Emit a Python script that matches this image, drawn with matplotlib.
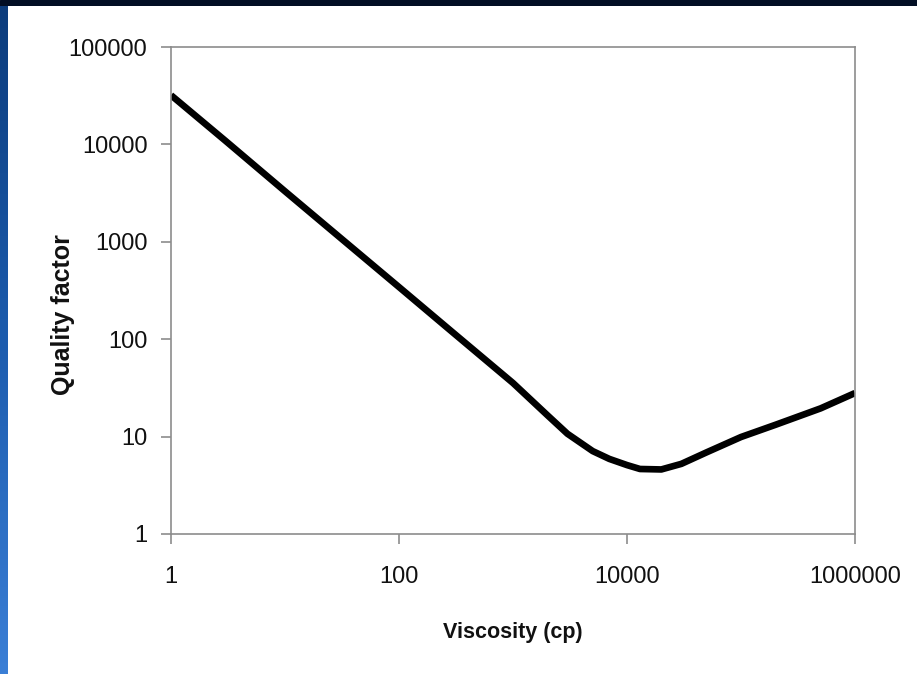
import numpy as np
import matplotlib
matplotlib.use("Agg")
import matplotlib.pyplot as plt

# data (log-log)
viscosity = [1, 3, 10, 30, 100, 300, 1000, 2000, 3000, 5000, 7000, 10000,
             13000, 20000, 30000, 50000, 100000, 200000, 500000, 1000000]
quality = [32000, 10900, 3300, 1120, 343, 116, 35.5, 16.6, 10.7, 7.1, 5.9, 5.1,
           4.65, 4.6, 5.25, 6.9, 9.9, 13.2, 19.5, 28]

x_ticks = [1, 100, 10000, 1000000]
x_tick_labels = ["1", "100", "10000", "1000000"]
y_ticks = [1, 10, 100, 1000, 10000, 100000]
y_tick_labels = ["1", "10", "100", "1000", "10000", "100000"]

plt.rcParams['font.family'] = ['Liberation Sans', 'DejaVu Sans']

W, H = 917, 674
fig = plt.figure(figsize=(W / 100, H / 100), dpi=100, facecolor="white")

# slide background strips (top and left)
top = fig.add_axes([0, 1 - 6 / H, 1, 6 / H])
top.set_axis_off()
top.add_patch(plt.Rectangle((0, 0), 1, 1, color="#020e24", transform=top.transAxes))

left = fig.add_axes([0, 0, 8 / W, 1 - 6 / H])
grad = np.linspace(0, 1, 256).reshape(-1, 1)
cmap = matplotlib.colors.LinearSegmentedColormap.from_list("slide", ["#3b7fd6", "#1c5cae", "#0c3c7c"])
left.imshow(grad, aspect="auto", cmap=cmap, origin="lower", extent=[0, 1, 0, 1])
left.set_axis_off()

ax = fig.add_axes([171 / W, 1 - 534 / H, 684 / W, 487 / H])
ax.plot(viscosity, quality, color="black", linewidth=4.8, solid_joinstyle="round",
        solid_capstyle="butt")

ax.set_xscale("log")
ax.set_yscale("log")
ax.set_xlim(1, 1000000)
ax.set_ylim(1, 100000)

ax.set_xticks(x_ticks)
ax.set_xticklabels(x_tick_labels)
ax.set_yticks(y_ticks)
ax.set_yticklabels(y_tick_labels)
ax.minorticks_off()

spine_col = "#8c8c8c"
for s in ax.spines.values():
    s.set_color(spine_col)
    s.set_linewidth(1.2)

ax.tick_params(axis="x", direction="out", length=7, width=1.2, color=spine_col,
               labelsize=17, labelcolor="#111111", pad=16)
ax.tick_params(axis="y", direction="out", length=7, width=1.2, color=spine_col,
               labelsize=17, labelcolor="#111111", pad=10)

ax.set_xlabel("Viscosity (cp)", fontsize=15.5, fontweight="bold", color="#111111")
ax.set_ylabel("Quality factor", fontsize=18, fontweight="bold", color="#111111")
ax.xaxis.set_label_coords(0.5, -0.181)
ax.yaxis.set_label_coords(-0.14, 0.45)

fig.savefig("out.png", dpi=100, facecolor="white")
